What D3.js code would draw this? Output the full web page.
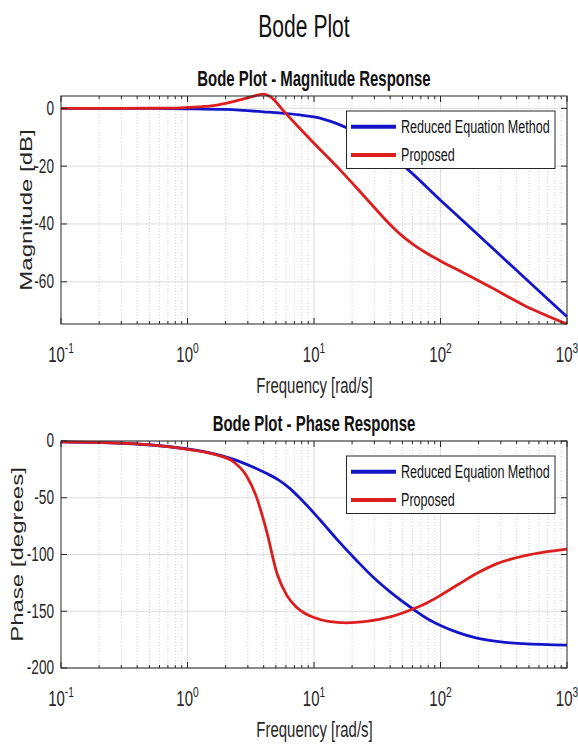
<!DOCTYPE html>
<html>
<head>
<meta charset="utf-8">
<script src="https://cdn.jsdelivr.net/npm/d3@7"></script>
<style>
  html, body { margin: 0; padding: 0; background: #fff; }
  svg { display: block; font-family: "Liberation Sans", Arial, Helvetica, sans-serif; }
</style>
</head>
<body>
<div id="chart"></div>
<script>
// ---- data ----
const decades = [0.1, 1, 10, 100, 1000];
const decadeExponents = ["-1", "0", "1", "2", "3"];
const magTicks = [0, -20, -40, -60];
const phaseTicks = [0, -50, -100, -150, -200];
const seriesNames = ["Reduced Equation Method", "Proposed"];

// magnitude [dB]
const magFreqReduced = [0.1, 0.5, 1, 2, 4, 7.7, 10, 12, 15, 18.1, 25, 35, 55.6, 100, 200, 500, 1000];
const magReduced = [0, -0.05, -0.15, -0.4, -1.2, -2.3, -3.0, -3.8, -5.2, -6.7, -9.8, -14.2, -21.3, -31.8, -43.9, -60, -72.1];
const magFreqProposed = [0.1, 0.3, 0.7, 1, 1.6, 2.3, 3.1, 4.0, 4.5, 5.9, 7.7, 10, 16, 20, 25, 31, 38, 48, 60, 75, 100, 150, 246, 452, 1000];
const magProposed = [0, 0, 0.05, 0.3, 0.9, 2.3, 3.8, 4.9, 4.1, -1.5, -6.9, -12.1, -21.2, -25.8, -30.5, -35, -39.2, -43.5, -46.9, -49.7, -52.8, -56.8, -61.7, -68, -74.6];

// phase [degrees]
const phaseFreqReduced = [0.1, 0.3, 0.6, 1, 1.5, 2, 2.5, 3, 4.2, 5.2, 6.4, 8, 10, 11.8, 15, 21.6, 30, 40, 60.5, 80, 100, 140, 191, 300, 446, 1000];
const phaseReduced = [-0.7, -2, -4.2, -7, -10.5, -14, -17.5, -21, -28.5, -34, -41.5, -52, -63.5, -72.6, -86, -105, -121, -133, -148, -157, -162.5, -169, -173.5, -177, -178.6, -179.9];
const phaseFreqProposed = [0.1, 0.37, 1, 1.7, 2.3, 2.9, 3.5, 4.2, 5.1, 6.1, 7.2, 8.5, 10, 13, 18, 26, 40, 60.5, 80, 100, 140, 191, 280, 446, 700, 1000];
const phaseProposed = [-0.7, -2.3, -7.3, -12.3, -18.2, -30, -49, -78.5, -116.7, -136, -146, -152, -155.5, -159, -160.3, -159, -155, -148, -142, -136, -126, -117, -108, -101.5, -97.5, -95.2];

// ---- layout ----
const WIDTH = 578, HEIGHT = 744;
const SX = 0.68; // reference text is horizontally squeezed
const COLORS = ["#1414c8", "#dc1e1e"];
const TEXT = "#262626";

const svg = d3.select("#chart").append("svg").attr("width", WIDTH).attr("height", HEIGHT);

/**
 * Text with the squeezed look of the reference
 */
function addText(parent, x, y, str, opts = {}) {
  const sx = opts.sx || SX;
  return parent.append("text")
    .attr("transform", `translate(${x},${y}) scale(${sx},1)${opts.rotate ? " rotate(-90)" : ""}`)
    .attr("text-anchor", opts.anchor || "middle")
    .attr("dominant-baseline", opts.baseline || "auto")
    .attr("font-size", opts.size || 20)
    .attr("font-weight", opts.weight || "normal")
    .attr("fill", opts.color || TEXT)
    .text(str);
}

/**
 * Draw one Bode panel (grid, lines, axes, legend)
 */
function drawPanel(cfg) {
  const x = d3.scaleLog().domain([0.1, 1000]).range([61, 567]);
  const y = d3.scaleLinear().domain(cfg.domain).range([cfg.bottom, cfg.top]);
  const g = svg.append("g");

  const minors = [];
  decades.slice(0, -1).forEach((d) => { for (let k = 2; k <= 9; k++) minors.push(d * k); });

  // grid
  g.selectAll(".minor-grid").data(minors).join("line")
    .attr("x1", (d) => x(d)).attr("x2", (d) => x(d))
    .attr("y1", cfg.top).attr("y2", cfg.bottom)
    .attr("stroke", "#c4c4c4").attr("stroke-width", 0.8).attr("stroke-dasharray", "1,2");
  g.selectAll(".major-grid").data(decades.slice(1, -1)).join("line")
    .attr("x1", (d) => x(d)).attr("x2", (d) => x(d))
    .attr("y1", cfg.top).attr("y2", cfg.bottom)
    .attr("stroke", "#dcdcdc").attr("stroke-width", 1);
  g.selectAll(".y-grid").data(cfg.ticks).join("line")
    .attr("x1", 61).attr("x2", 567)
    .attr("y1", (d) => y(d)).attr("y2", (d) => y(d))
    .attr("stroke", "#dcdcdc").attr("stroke-width", 1);

  // curves
  const line = d3.line().x((d) => x(d[0])).y((d) => y(d[1])).curve(d3.curveMonotoneX);
  cfg.series.forEach((s, i) => {
    g.append("path")
      .datum(d3.zip(s.freq, s.values))
      .attr("d", line)
      .attr("fill", "none")
      .attr("stroke", COLORS[i])
      .attr("stroke-width", 2.8)
      .attr("stroke-linejoin", "round");
  });

  // box
  g.append("rect")
    .attr("x", 61).attr("y", cfg.top)
    .attr("width", 506).attr("height", cfg.bottom - cfg.top)
    .attr("fill", "none").attr("stroke", "#262626").attr("stroke-width", 1);

  // inward ticks
  const tickLines = [];
  decades.forEach((d) => tickLines.push([x(d), 6]));
  minors.forEach((d) => tickLines.push([x(d), 3]));
  tickLines.forEach(([px, len]) => {
    g.append("line").attr("x1", px).attr("x2", px).attr("y1", cfg.bottom).attr("y2", cfg.bottom - len)
      .attr("stroke", "#262626");
    g.append("line").attr("x1", px).attr("x2", px).attr("y1", cfg.top).attr("y2", cfg.top + len)
      .attr("stroke", "#262626");
  });
  cfg.ticks.forEach((t) => {
    g.append("line").attr("x1", 61).attr("x2", 67).attr("y1", y(t)).attr("y2", y(t)).attr("stroke", "#262626");
    g.append("line").attr("x1", 561).attr("x2", 567).attr("y1", y(t)).attr("y2", y(t)).attr("stroke", "#262626");
  });

  // tick labels
  cfg.ticks.forEach((t) => {
    addText(g, 54, y(t), String(t), { size: 20, anchor: "end", baseline: "central" });
  });
  decades.forEach((d, i) => {
    const t = addText(g, x(d), cfg.bottom + 38, "", { size: 22 });
    t.append("tspan").text("10");
    t.append("tspan").attr("dy", -9).attr("font-size", 15).text(decadeExponents[i]);
  });

  // titles and labels
  addText(g, 314, cfg.top - 10, cfg.title, { size: 22, weight: "bold", color: "#111" });
  addText(g, 314.5, cfg.bottom + 69, "Frequency [rad/s]", { size: 22 });
  addText(g, cfg.ylabelX, (cfg.top + cfg.bottom) / 2, cfg.ylabel, { size: 24, rotate: true, sx: 0.72 });

  // legend
  const lx = 346.5, ly = cfg.top + 15;
  const lg = g.append("g");
  lg.append("rect").attr("x", lx).attr("y", ly).attr("width", 208.5).attr("height", 57.5)
    .attr("fill", "#fff").attr("stroke", "#262626").attr("stroke-width", 1);
  seriesNames.forEach((name, i) => {
    const ry = ly + 15.7 + i * 28.3;
    lg.append("line").attr("x1", lx + 4.5).attr("x2", lx + 49.5).attr("y1", ry).attr("y2", ry)
      .attr("stroke", COLORS[i]).attr("stroke-width", 4);
    addText(lg, lx + 54.5, ry, name, { size: 18.5, anchor: "start", baseline: "central", color: "#111" });
  });
}

addText(svg, 304, 36.7, "Bode Plot", { size: 31, color: "#111" });

drawPanel({
  top: 96, bottom: 324, domain: [-74.6, 4.26], ticks: magTicks,
  title: "Bode Plot - Magnitude Response", ylabel: "Magnitude [dB]", ylabelX: 32,
  series: [
    { freq: magFreqReduced, values: magReduced },
    { freq: magFreqProposed, values: magProposed },
  ],
});

drawPanel({
  top: 441, bottom: 668, domain: [-200, 0], ticks: phaseTicks,
  title: "Bode Plot - Phase Response", ylabel: "Phase [degrees]", ylabelX: 23,
  series: [
    { freq: phaseFreqReduced, values: phaseReduced },
    { freq: phaseFreqProposed, values: phaseProposed },
  ],
});
</script>
</body>
</html>
